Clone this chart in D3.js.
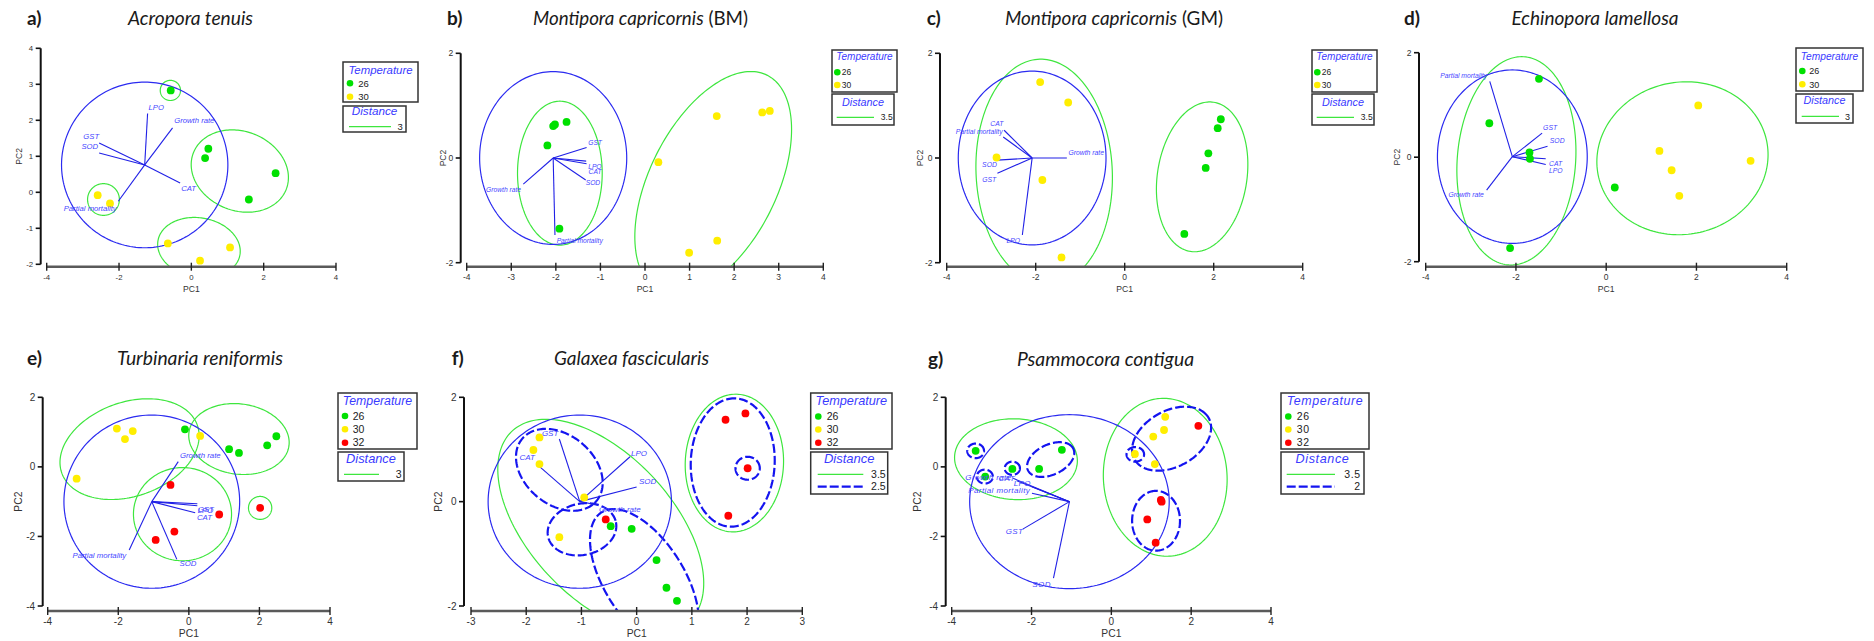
<!DOCTYPE html>
<html>
<head>
<meta charset="utf-8">
<script src="https://cdn.jsdelivr.net/npm/d3@7"></script>
<style>
  body { margin: 0; background: #fff; }
  svg { display: block; }
</style>
</head>
<body>
<svg id="chart" width="1874" height="641"></svg>
<script>
// ---------- data ----------
const panelTags = ["a)", "b)", "c)", "d)", "e)", "f)", "g)"];
const species = ["Acropora tenuis", "Montipora capricornis", "Montipora capricornis",
  "Echinopora lamellosa", "Turbinaria reniformis", "Galaxea fascicularis", "Psammocora contigua"];
const speciesSuffix = ["", " (BM)", " (GM)", "", "", "", ""];

const temperatures2 = ["26", "30"];
const temperatures3 = ["26", "30", "32"];

const xTicks8 = [-4, -2, 0, 2, 4];
const xTicksUnit = [-4, -3, -2, -1, 0, 1, 2, 3, 4];
const xTicks6 = [-3, -2, -1, 0, 1, 2, 3];
const yTicksA = [-2, -1, 0, 1, 2, 3, 4];
const yTicks4 = [-2, 0, 2];
const yTicks6 = [-4, -2, 0, 2];

// sample scores: [PC1, PC2, temperature]
const ptsA = [[-0.57, 2.83, "26"], [0.47, 1.21, "26"], [0.38, 0.95, "26"], [2.33, 0.53, "26"], [1.59, -0.20, "26"],
  [-2.59, -0.08, "30"], [-2.25, -0.31, "30"], [-0.65, -1.42, "30"], [1.07, -1.53, "30"], [0.24, -1.90, "30"]];
const ptsB = [[-2.02, 0.64, "26"], [-2.06, 0.61, "26"], [-1.76, 0.69, "26"], [-2.19, 0.24, "26"], [-1.92, -1.35, "26"],
  [0.30, -0.08, "30"], [1.61, 0.80, "30"], [2.63, 0.87, "30"], [2.80, 0.90, "30"], [1.62, -1.58, "30"], [0.99, -1.81, "30"]];
const ptsC = [[-1.90, 1.45, "30"], [-1.27, 1.06, "30"], [-2.88, 0.01, "30"], [-1.85, -0.42, "30"], [-1.42, -1.90, "30"],
  [2.16, 0.74, "26"], [2.09, 0.57, "26"], [1.88, 0.09, "26"], [1.82, -0.19, "26"], [1.34, -1.45, "26"]];
const ptsD = [[-1.49, 1.50, "26"], [-2.59, 0.65, "26"], [-1.70, 0.09, "26"], [-1.69, -0.03, "26"], [-2.13, -1.74, "26"], [0.19, -0.58, "26"],
  [2.04, 0.99, "30"], [1.18, 0.12, "30"], [1.45, -0.25, "30"], [1.62, -0.74, "30"], [3.20, -0.07, "30"]];
const ptsE = [[-0.11, 1.08, "26"], [1.14, 0.51, "26"], [1.42, 0.40, "26"], [2.22, 0.62, "26"], [2.48, 0.88, "26"],
  [-2.04, 1.10, "30"], [-1.59, 1.03, "30"], [-1.81, 0.80, "30"], [0.32, 0.89, "30"], [-3.18, -0.34, "30"],
  [-0.52, -0.52, "32"], [0.86, -1.37, "32"], [-0.41, -1.86, "32"], [-0.94, -2.10, "32"], [2.02, -1.18, "32"]];
const ptsF = [[-1.76, 1.23, "30"], [-1.87, 0.99, "30"], [-1.76, 0.72, "30"], [-0.95, 0.08, "30"], [-1.40, -0.68, "30"],
  [-0.56, -0.34, "32"], [1.61, 1.57, "32"], [1.97, 1.69, "32"], [2.01, 0.64, "32"], [1.66, -0.27, "32"],
  [-0.47, -0.47, "26"], [-0.09, -0.52, "26"], [0.36, -1.12, "26"], [0.54, -1.65, "26"], [0.73, -1.90, "26"]];
const ptsG = [[-3.40, 0.46, "26"], [-3.16, -0.28, "26"], [-2.48, -0.06, "26"], [-1.81, -0.06, "26"], [-1.24, 0.49, "26"],
  [1.35, 1.44, "30"], [1.32, 1.06, "30"], [1.05, 0.87, "30"], [0.59, 0.37, "30"], [1.09, 0.08, "30"],
  [2.18, 1.18, "32"], [1.24, -0.95, "32"], [1.26, -1.00, "32"], [0.90, -1.51, "32"], [1.11, -2.18, "32"]];

// circle of the variable loadings: [centre PC1, centre PC2, radius]
const circA = [-1.29, 0.76, 2.30];
const circB = [-2.06, 0.00, 1.65];
const circC = [-2.08, 0.00, 1.66];
const circD = [-2.08, 0.01, 1.66];
const circE = [-1.05, -1.00, 2.49];
const circF = [-1.03, 0.00, 1.66];
const circG = [-1.05, -1.00, 2.50];

// variable vectors (tip position, drawn from the circle centre): [name, PC1, PC2]
const vecA = [["LPO", -1.21, 2.19], ["Growth rate", -0.52, 1.79], ["GST", -2.55, 1.37], ["SOD", -2.55, 1.09],
  ["CAT", -0.31, 0.26], ["Partial mortality", -2.02, -0.25]];
const vecB = [["GST", -1.31, 0.20], ["LPO", -1.32, -0.06], ["CAT", -1.31, -0.11], ["SOD", -1.33, -0.42],
  ["Growth rate", -2.73, -0.50], ["Partial mortality", -2.02, -1.47]];
const vecC = [["CAT", -2.71, 0.53], ["Partial mortality", -2.73, 0.40], ["Growth rate", -1.30, 0.00],
  ["SOD", -2.86, -0.04], ["GST", -2.86, -0.29], ["LPO", -2.30, -1.47]];
const vecD = [["Partial mortality", -2.58, 1.45], ["GST", -1.42, 0.46], ["SOD", -1.30, 0.21], ["CAT", -1.34, -0.03],
  ["LPO", -1.34, -0.14], ["Growth rate", -2.65, -0.63]];
const vecE = [["Growth rate", -0.30, 0.15], ["GST", 0.24, -1.06], ["LPO", 0.24, -1.12], ["CAT", 0.18, -1.32],
  ["SOD", -0.34, -2.66], ["Partial mortality", -1.69, -2.39]];
const vecF = [["GST", -1.40, 1.20], ["CAT", -1.81, 0.72], ["LPO", -0.12, 0.86], ["SOD", 0.00, 0.28], ["Growth rate", -0.72, -0.06]];
const vecG = [["SOD", -1.45, -3.20], ["GST", -2.22, -1.79], ["Growth rate", -2.46, -0.33], ["CAT", -2.37, -0.40],
  ["LPO", -1.99, -0.57], ["Partial mortality", -1.99, -0.76]];

// cluster contours at a given resemblance distance: [cx, cy, semi-axis 1, semi-axis 2, angle (deg), distance]
const contA = [[-0.58, 2.83, 0.28, 0.28, 0, 3], [1.34, 0.59, 1.38, 1.10, -22, 3], [-2.43, -0.20, 0.44, 0.44, 0, 3],
  [0.21, -1.54, 1.15, 0.83, -10, 3]];
const contB = [[-1.91, -0.29, 0.95, 1.375, 0, 3.5], [1.53, -0.48, 2.40, 1.37, 56, 3.5]];
const contC = [[-1.81, -0.27, 2.16, 1.53, 94, 3.5], [1.74, -0.36, 1.45, 1.00, 77, 3.5]];
const contD = [[-1.99, -0.07, 2.00, 1.31, 84, 3], [1.69, -0.02, 1.90, 1.46, 5, 3]];
const contE = [[-1.68, 0.51, 2.04, 1.35, 20, 3], [1.42, 0.80, 1.43, 1.01, -8, 3], [-0.18, -1.36, 1.39, 1.34, 0, 3],
  [2.02, -1.18, 0.33, 0.33, 0, 3]];
const contF = [[-0.65, -0.47, 2.43, 1.33, -50, 3.5], [1.77, 0.74, 1.32, 0.89, 88, 3.5],
  [-1.40, 0.61, 0.90, 0.65, -45, 2.5], [-0.99, -0.53, 0.63, 0.49, 15, 2.5], [0.14, -1.50, 1.51, 0.73, -60, 2.5],
  [1.74, 0.75, 1.23, 0.76, 88, 2.5], [2.01, 0.64, 0.22, 0.22, 0, 2.5]];
const contG = [[-2.39, 0.22, 1.54, 1.16, -4, 3.5], [1.35, -0.30, 2.27, 1.55, 92, 3.5],
  [-3.40, 0.46, 0.21, 0.21, 0, 2], [-3.17, -0.28, 0.20, 0.20, 0, 2], [-2.48, -0.04, 0.19, 0.19, 0, 2],
  [-1.52, 0.21, 0.65, 0.42, 33, 2], [0.60, 0.36, 0.22, 0.21, 0, 2], [1.51, 0.81, 1.11, 0.77, 39, 2],
  [1.12, -1.55, 0.86, 0.60, 90, 2]];

const distanceLevels = [[3], [3.5], [3.5], [3], [3], [3.5, 2.5], [3.5, 2]];

// ---------- layout & style ----------
const temperatureColour = { "26": "#00e000", "30": "#ffee00", "32": "#ff0000" };

const layout = [
  { xDom: [-4, 4], yDom: [-2, 4], xr: [46.7, 336], yr: [264.3, 48.3], yAxisX: 40.7, xAxisY: 266.7, xt: xTicks8, yt: yTicksA,
    tickFs: 7.8, axFs: 8.6, pc2dx: -22, tagX: 27, titleX: 190.5, titleY: 25, titleW: 125, vecFs: 7.7,
    leg: { tx: 343, ty: 62, tw: 75, th: 40, hfs: 11.4, hb: 74.2, rows: [83.3, 96.7], dotX: 350, txtX: 358.3, ifs: 9.5,
      dy: 106, dw: 63, dh: 26, dfs: 11.7, db: 115.2, lines: [126.7], lx0: 349, lx1: 391, lr: 402.7, lfs: 9.5 } },
  { xDom: [-4, 4], yDom: [-2, 2], xr: [466.7, 823.3], yr: [262.7, 53.3], yAxisX: 460.7, xAxisY: 266.7, xt: xTicksUnit, yt: yTicks4,
    tickFs: 8.5, axFs: 8.6, pc2dx: -18, tagX: 447, titleX: 640.5, titleY: 25, titleW: 215, vecFs: 6.7,
    leg: { tx: 832, ty: 50, tw: 65, th: 42, hfs: 10, hb: 59.8, rows: [72.3, 85], dotX: 837.3, txtX: 841.7, ifs: 8.5,
      dy: 94, dw: 62, dh: 31, dfs: 10.8, db: 105.5, lines: [117.3], lx0: 836.7, lx1: 874, lr: 892.7, lfs: 8.5 } },
  { xDom: [-4, 4], yDom: [-2, 2], xr: [946.7, 1302.7], yr: [262.7, 53.3], yAxisX: 940, xAxisY: 266.7, xt: xTicks8, yt: yTicks4,
    tickFs: 8.5, axFs: 8.6, pc2dx: -20, tagX: 926.7, titleX: 1114, titleY: 25, titleW: 218, vecFs: 6.8,
    leg: { tx: 1312, ty: 50, tw: 65, th: 42, hfs: 10, hb: 59.8, rows: [72.3, 85], dotX: 1317.3, txtX: 1321.7, ifs: 8.5,
      dy: 94, dw: 62, dh: 31, dfs: 10.8, db: 105.5, lines: [117.3], lx0: 1316.7, lx1: 1354, lr: 1372.7, lfs: 8.5 } },
  { xDom: [-4, 4], yDom: [-2, 2], xr: [1425.7, 1786.7], yr: [261.7, 52.7], yAxisX: 1419, xAxisY: 266.7, xt: xTicks8, yt: yTicks4,
    tickFs: 8.5, axFs: 8.6, pc2dx: -22, tagX: 1404, titleX: 1595, titleY: 25, titleW: 167, vecFs: 6.8,
    leg: { tx: 1796, ty: 48, tw: 67, th: 43, hfs: 10.2, hb: 59.8, rows: [71, 84.3], dotX: 1802.3, txtX: 1809.3, ifs: 9,
      dy: 94, dw: 57, dh: 29, dfs: 10.8, db: 103.8, lines: [116.3], lx0: 1801.7, lx1: 1839, lr: 1850, lfs: 9 } },
  { xDom: [-4, 4], yDom: [-4, 2], xr: [47.7, 330], yr: [606, 397.3], yAxisX: 42.7, xAxisY: 611, xt: xTicks8, yt: yTicks6,
    tickFs: 10, axFs: 10.3, pc2dx: -24, tagX: 27, titleX: 200, titleY: 364.5, titleW: 166, vecFs: 7.8,
    leg: { tx: 338, ty: 393, tw: 79, th: 56, hfs: 12.3, hb: 404.8, rows: [416, 429.3, 442.7], dotX: 345, txtX: 352.7, ifs: 10.5,
      dy: 452, dw: 66, dh: 29, dfs: 12.8, db: 462.8, lines: [474.3], lx0: 344, lx1: 379, lr: 401.7, lfs: 10.5 } },
  { xDom: [-3, 3], yDom: [-2, 2], xr: [471, 802.3], yr: [606, 397.3], yAxisX: 464, xAxisY: 611, xt: xTicks6, yt: yTicks4,
    tickFs: 10, axFs: 10.3, pc2dx: -26, tagX: 451.7, titleX: 631.5, titleY: 365, titleW: 155, vecFs: 8,
    leg: { tx: 810.7, ty: 393, tw: 81.3, th: 56, hfs: 12.7, hb: 404.8, rows: [416.5, 429.5, 442.7], dotX: 818.3, txtX: 826.7, ifs: 10.5,
      dy: 452, dw: 77, dh: 42, dfs: 13, db: 462.8, lines: [474.3, 486.7], lx0: 817.7, lx1: 863.3, lr: 885.7, lfs: 10.5 } },
  { xDom: [-4, 4], yDom: [-4, 2], xr: [951.7, 1271], yr: [606, 397.3], yAxisX: 945.7, xAxisY: 611, xt: xTicks8, yt: yTicks6,
    tickFs: 10, axFs: 10.3, pc2dx: -28, tagX: 928, titleX: 1105.5, titleY: 365.5, titleW: 177, vecFs: 8, spacing: 0.6,
    leg: { tx: 1281, ty: 393, tw: 88, th: 56, hfs: 12.4, hb: 404.8, rows: [416.5, 429.5, 442.7], dotX: 1288.3, txtX: 1296.7, ifs: 10.5,
      dy: 452, dw: 83, dh: 42, dfs: 12.6, db: 462.8, lines: [474.3, 486.7], lx0: 1286.7, lx1: 1335, lr: 1360.7, lfs: 10.5 } }
];

// label placement next to each vector tip: [dx, dy, text-anchor]
const vecLabelPos = [
  { "LPO": [1, -3.3, "start"], "Growth rate": [1.7, -5, "start"], "GST": [0, -3.6, "end"], "SOD": [-1, -4.3, "end"],
    "CAT": [1, 8, "start"], "Partial mortality": [-1.6, 9.6, "end"] },
  { "GST": [1.6, -2.8, "start"], "LPO": [2, 7.5, "start"], "CAT": [2, 10, "start"], "SOD": [0, 5.3, "start"],
    "Growth rate": [-2.3, 8, "end"], "Partial mortality": [1.7, 8.5, "start"] },
  { "CAT": [-0.7, -4.5, "end"], "Partial mortality": [-0.6, -2.8, "end"], "Growth rate": [1.6, -3.3, "start"],
    "SOD": [-0.6, 7, "end"], "GST": [-1.3, 8.7, "end"], "LPO": [-2.3, 7.8, "end"] },
  { "Partial mortality": [-2.7, -3.9, "end"], "GST": [1, -3.3, "start"], "SOD": [2.3, -3.2, "start"],
    "CAT": [3.3, 7, "start"], "LPO": [3.3, 8.5, "start"], "Growth rate": [-2.7, 7, "end"] },
  { "Growth rate": [1.7, -3.9, "start"], "GST": [0.4, 8.1, "start"], "LPO": [0.4, 7.5, "start"], "CAT": [1.7, 6.8, "start"],
    "SOD": [2.6, 6.2, "start"], "Partial mortality": [-3, 8.5, "end"] },
  { "GST": [-1, -3.3, "end"], "CAT": [-1.7, -4.5, "end"], "LPO": [1, -1.2, "start"], "SOD": [2.3, -2.8, "start"],
    "Growth rate": [2, 6.8, "start"] },
  { "SOD": [-2.6, 8.5, "end"], "GST": [0.6, 5.2, "end"], "Growth rate": [-1.6, 1.2, "end"], "CAT": [-1.7, 0.3, "end"],
    "LPO": [-1, -0.7, "end"], "Partial mortality": [-1.7, -0.5, "end"] }
];

const panels = [
  { pts: ptsA, circ: circA, vec: vecA, cont: contA, temps: temperatures2 },
  { pts: ptsB, circ: circB, vec: vecB, cont: contB, temps: temperatures2 },
  { pts: ptsC, circ: circC, vec: vecC, cont: contC, temps: temperatures2 },
  { pts: ptsD, circ: circD, vec: vecD, cont: contD, temps: temperatures2 },
  { pts: ptsE, circ: circE, vec: vecE, cont: contE, temps: temperatures3 },
  { pts: ptsF, circ: circF, vec: vecF, cont: contF, temps: temperatures3 },
  { pts: ptsG, circ: circG, vec: vecG, cont: contG, temps: temperatures3 }
];

const GREEN_LINE = "#3ee63e";
const BLUE = "#2b2bf0";
const LABEL_BLUE = "#4646ff";
const SANS = "'Liberation Sans', Arial, sans-serif";
const TITLE_FONT = "Lato, 'Open Sans', sans-serif";

const svg = d3.select("#chart");

function ellipsePath(c, xs, ys) {
  const [cx, cy, r1, r2, ang] = c;
  const th = ang * Math.PI / 180;
  const pts = d3.range(0, 360, 2).map(deg => {
    const t = deg * Math.PI / 180;
    const u = r1 * Math.cos(t), v = r2 * Math.sin(t);
    return [xs(cx + u * Math.cos(th) - v * Math.sin(th)), ys(cy + u * Math.sin(th) + v * Math.cos(th))];
  });
  return d3.line().curve(d3.curveLinearClosed)(pts);
}

function contourStyle(sel, levelIdx) {
  if (levelIdx === 0) {
    sel.attr("stroke", GREEN_LINE).attr("stroke-width", 1.2).attr("stroke-dasharray", null);
  } else {
    sel.attr("stroke", "#1414f0").attr("stroke-width", 2.2).attr("stroke-dasharray", "9,3");
  }
}

panels.forEach((p, i) => {
  const L = layout[i];
  const levels = distanceLevels[i];
  const xs = d3.scaleLinear().domain(L.xDom).range(L.xr);
  const ys = d3.scaleLinear().domain(L.yDom).range(L.yr);
  const g = svg.append("g").attr("class", "panel");

  // titles
  g.append("text").attr("x", L.tagX).attr("y", L.titleY)
    .attr("font-family", TITLE_FONT).attr("font-weight", 700).attr("font-size", 19).attr("fill", "#1a1a1a")
    .text(panelTags[i]);
  const t = g.append("text").attr("x", L.titleX - L.titleW / 2).attr("y", L.titleY)
    .attr("font-family", TITLE_FONT).attr("font-size", 19).attr("fill", "#1a1a1a")
    .attr("textLength", L.titleW).attr("lengthAdjust", "spacingAndGlyphs");
  t.append("tspan").attr("font-style", "italic").text(species[i]);
  if (speciesSuffix[i]) t.append("tspan").text(speciesSuffix[i]);

  // clipping to the plotting region
  const clipId = "clip" + i;
  g.append("clipPath").attr("id", clipId).append("rect")
    .attr("x", L.yAxisX).attr("y", ys(L.yDom[1]) - 4)
    .attr("width", xs(L.xDom[1]) - L.yAxisX + 4).attr("height", L.xAxisY - ys(L.yDom[1]) + 4);
  const plot = g.append("g").attr("clip-path", `url(#${clipId})`);

  // cluster contours
  p.cont.forEach(c => {
    const li = levels.indexOf(c[5]);
    plot.append("path").attr("d", ellipsePath(c, xs, ys)).attr("fill", "none").call(contourStyle, li);
  });

  // loadings circle
  const [ox, oy, r] = p.circ;
  plot.append("path").attr("d", ellipsePath([ox, oy, r, r, 0], xs, ys))
    .attr("fill", "none").attr("stroke", BLUE).attr("stroke-width", 1.2);

  // vectors
  plot.selectAll("line.vec").data(p.vec).join("line").attr("class", "vec")
    .attr("x1", xs(ox)).attr("y1", ys(oy))
    .attr("x2", d => xs(d[1])).attr("y2", d => ys(d[2]))
    .attr("stroke", "#2020e6").attr("stroke-width", 1.1);

  g.selectAll("text.vlab").data(p.vec).join("text").attr("class", "vlab")
    .attr("x", d => xs(d[1]) + vecLabelPos[i][d[0]][0])
    .attr("y", d => ys(d[2]) + vecLabelPos[i][d[0]][1])
    .attr("text-anchor", d => vecLabelPos[i][d[0]][2])
    .attr("font-family", SANS).attr("font-style", "italic").attr("font-size", L.vecFs)
    .attr("letter-spacing", L.spacing ? 0.4 : null)
    .attr("fill", LABEL_BLUE).text(d => d[0]);

  // samples
  plot.selectAll("circle.pt").data(p.pts).join("circle").attr("class", "pt")
    .attr("cx", d => xs(d[0])).attr("cy", d => ys(d[1])).attr("r", 3.9)
    .attr("fill", d => temperatureColour[d[2]]);

  // axes
  const ax = g.append("g").attr("font-family", SANS).attr("fill", "#333");
  ax.append("line").attr("x1", L.yAxisX).attr("x2", L.yAxisX)
    .attr("y1", ys(L.yDom[1])).attr("y2", ys(L.yDom[0])).attr("stroke", "#111").attr("stroke-width", 2);
  ax.selectAll("line.yt").data(L.yt).join("line").attr("class", "yt")
    .attr("x1", L.yAxisX - 5).attr("x2", L.yAxisX).attr("y1", d => ys(d)).attr("y2", d => ys(d))
    .attr("stroke", "#111").attr("stroke-width", 1.6);
  ax.selectAll("text.yl").data(L.yt).join("text").attr("class", "yl")
    .attr("x", L.yAxisX - 7.5).attr("y", d => ys(d) + L.tickFs * 0.36).attr("text-anchor", "end")
    .attr("font-size", L.tickFs).text(d => d);

  ax.append("line").attr("x1", xs(L.xDom[0])).attr("x2", xs(L.xDom[1]))
    .attr("y1", L.xAxisY).attr("y2", L.xAxisY).attr("stroke", "#5a5a5a").attr("stroke-width", 2.6);
  ax.selectAll("line.xt").data(L.xt).join("line").attr("class", "xt")
    .attr("x1", d => xs(d)).attr("x2", d => xs(d)).attr("y1", L.xAxisY - 4).attr("y2", L.xAxisY + 4)
    .attr("stroke", "#222").attr("stroke-width", 1.4);
  ax.selectAll("text.xl").data(L.xt).join("text").attr("class", "xl")
    .attr("x", d => xs(d)).attr("y", L.xAxisY + 10 + L.tickFs * 0.36).attr("text-anchor", "middle")
    .attr("font-size", L.tickFs).text(d => d);

  ax.append("text").attr("x", (L.xr[0] + L.xr[1]) / 2).attr("y", L.xAxisY + 22.5 + L.axFs * 0.36)
    .attr("text-anchor", "middle").attr("font-size", L.axFs).text("PC1");
  const midY = (L.yr[0] + L.yr[1]) / 2;
  ax.append("text").attr("transform", `translate(${L.yAxisX + L.pc2dx + L.axFs * 0.36},${midY}) rotate(-90)`)
    .attr("text-anchor", "middle").attr("font-size", L.axFs).text("PC2");

  // legend
  const lg = L.leg;
  const leg = g.append("g").attr("font-family", SANS);
  leg.append("rect").attr("x", lg.tx).attr("y", lg.ty).attr("width", lg.tw).attr("height", lg.th)
    .attr("fill", "#fff").attr("stroke", "#333").attr("stroke-width", 1.5);
  leg.append("text").attr("x", lg.tx + lg.tw / 2).attr("y", lg.hb).attr("text-anchor", "middle")
    .attr("font-style", "italic").attr("font-size", lg.hfs).attr("fill", "#3a3aff")
    .attr("letter-spacing", L.spacing ? L.spacing : null).text("Temperature");
  p.temps.forEach((tv, k) => {
    leg.append("circle").attr("cx", lg.dotX).attr("cy", lg.rows[k]).attr("r", 3.3).attr("fill", temperatureColour[tv]);
    leg.append("text").attr("x", lg.txtX).attr("y", lg.rows[k] + lg.ifs * 0.36).attr("font-size", lg.ifs)
      .attr("fill", "#222").attr("letter-spacing", L.spacing ? 0.8 : null).text(tv);
  });
  leg.append("rect").attr("x", lg.tx).attr("y", lg.dy).attr("width", lg.dw).attr("height", lg.dh)
    .attr("fill", "#fff").attr("stroke", "#333").attr("stroke-width", 1.5);
  leg.append("text").attr("x", lg.tx + lg.dw / 2).attr("y", lg.db).attr("text-anchor", "middle")
    .attr("font-style", "italic").attr("font-size", lg.dfs).attr("fill", "#3a3aff")
    .attr("letter-spacing", L.spacing ? L.spacing : null).text("Distance");
  levels.forEach((lv, k) => {
    leg.append("line").attr("x1", lg.lx0).attr("x2", lg.lx1).attr("y1", lg.lines[k]).attr("y2", lg.lines[k])
      .call(contourStyle, k);
    leg.append("text").attr("x", lg.lr).attr("y", lg.lines[k] + lg.lfs * 0.36).attr("text-anchor", "end")
      .attr("font-size", lg.lfs).attr("fill", "#222").attr("letter-spacing", L.spacing ? 0.6 : null).text(lv);
  });
});
</script>
</body>
</html>
